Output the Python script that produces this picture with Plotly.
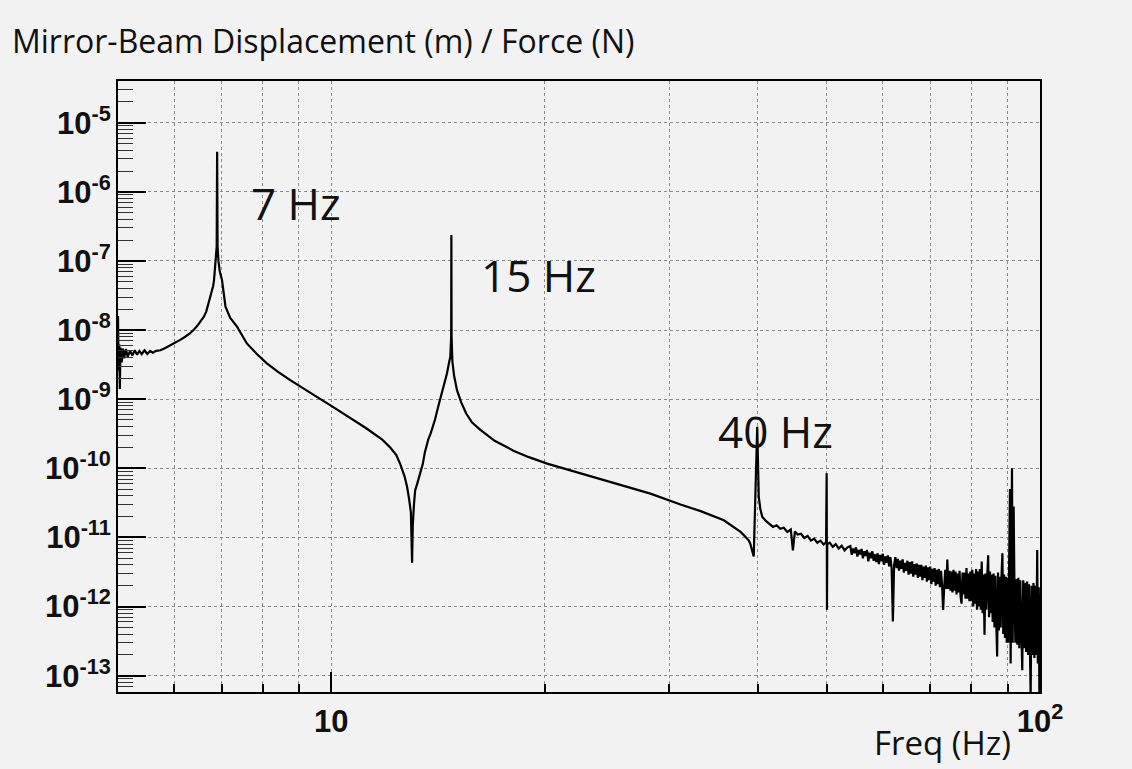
import math
import plotly.graph_objects as go

# Measured transfer function: mirror-beam displacement per unit force
freq_hz = [
    5.00, 5.01, 5.02, 5.03, 5.04, 5.06, 5.08, 5.10, 5.13, 5.16, 5.20, 5.24, 5.28,
    5.32, 5.36, 5.40, 5.45, 5.50, 5.55, 5.60, 5.66, 5.74, 5.83, 5.93, 6.02, 6.12,
    6.22, 6.32, 6.40, 6.47, 6.54, 6.61, 6.66, 6.70, 6.74, 6.78, 6.81, 6.83, 6.86,
    6.88, 6.89, 6.90, 6.91, 6.93, 6.96, 7.01, 7.09, 7.20, 7.36, 7.60, 7.85, 8.11,
    8.40, 8.75, 9.10, 9.54, 10.0, 10.64, 11.2, 11.8, 12.11, 12.35, 12.51, 12.68,
    12.79, 12.88, 12.95, 13.00, 13.03, 13.08, 13.13, 13.22, 13.34, 13.40, 13.46,
    13.55, 13.70, 13.81, 14.00, 14.15, 14.35, 14.56, 14.66, 14.72, 14.76, 14.77,
    14.78, 14.82, 14.90, 15.04, 15.25, 15.50, 15.80, 16.23, 17.0, 18.07, 19.0,
    20.16, 22.46, 25.0, 28.2, 31.1, 33.2, 35.8, 37.8, 38.3, 38.8, 39.0, 39.25,
    39.45, 39.9, 40.1, 40.3, 40.55, 41.0, 41.65,
    42.0, 42.5, 43.0, 43.5, 44.0, 44.5, 44.8, 45.1, 45.5, 46.0, 46.5, 47.0, 47.5,
    48.0, 48.5, 49.0, 49.5, 49.9, 50.0, 50.05, 50.1, 50.5, 51.0, 51.5, 52.0, 52.5,
    53.0, 53.5,
    54.0, 54.25, 54.5, 54.75, 55.0, 55.25, 55.5, 55.75,
    56.0, 56.25, 56.5, 56.75, 57.0, 57.25, 57.5, 57.75,
    58.0, 58.25, 58.5, 58.75, 59.0, 59.25, 59.5, 59.75,
    60.0, 60.25, 60.5, 60.75, 61.0, 61.25, 61.5, 61.75,
    62.0, 62.25, 62.5, 62.75, 63.0, 63.25, 63.5, 63.75,
    64.0, 64.25, 64.5, 64.75, 65.0, 65.25, 65.5, 65.75,
    66.0, 66.25, 66.5, 66.75, 67.0, 67.25, 67.5, 67.75,
    68.0, 68.25, 68.5, 68.75, 69.0, 69.25, 69.5, 69.75,
    70.0, 70.25, 70.5, 70.75, 71.0, 71.25, 71.5, 71.75,
    72.0, 72.25, 72.5, 72.75, 73.0, 73.25, 73.5, 73.75,
    74.0, 74.25, 74.5, 74.75, 75.0, 75.25, 75.5, 75.75,
    76.0, 76.25, 76.5, 76.75, 77.0, 77.25, 77.5, 77.75,
    78.0, 78.25, 78.5, 78.75, 79.0, 79.25, 79.5, 79.75,
    80.0, 80.25, 80.5, 80.75, 81.0, 81.25, 81.5, 81.75,
    82.0, 82.25, 82.5, 82.75, 83.0, 83.25, 83.5, 83.75,
    84.0, 84.25, 84.5, 84.75, 85.0, 85.25, 85.5, 85.75,
    86.0, 86.25, 86.5, 86.75, 87.0, 87.25, 87.5, 87.75,
    88.0, 88.25, 88.5, 88.75, 89.0, 89.25, 89.5, 89.75,
    90.0, 90.2, 90.5, 90.7, 90.9, 91.1, 91.3, 91.5, 91.8,
    92.0, 92.3, 92.6, 92.9, 93.2, 93.5, 93.8, 94.1, 94.4, 94.7, 95.0, 95.3, 95.6,
    95.9, 96.2, 96.5, 96.8, 97.0, 97.3, 97.6, 97.9, 98.2, 98.5, 98.8, 99.1, 99.3,
    99.6, 99.8, 100.0,
]

displacement_per_force = [
    1.6e-8, 2.6e-9, 6.2e-9, 1.4e-9, 5.6e-9, 3.4e-9, 5.4e-9, 3.9e-9, 5.3e-9, 4.1e-9,
    5.0e-9, 4.3e-9, 5.1e-9, 4.4e-9, 5.0e-9, 4.5e-9, 5.1e-9, 4.5e-9, 5.0e-9, 4.7e-9,
    5.0e-9, 5.1e-9, 5.5e-9, 6.0e-9, 6.5e-9, 7.2e-9, 8.0e-9, 9.0e-9, 1.02e-8,
    1.15e-8, 1.35e-8, 1.56e-8, 1.85e-8, 2.3e-8, 2.8e-8, 3.4e-8, 4.3e-8, 5.2e-8,
    8.2e-8, 1.2e-7, 1.6e-7, 3.8e-6, 1.6e-7, 1.0e-7, 7.0e-8, 5.3e-8, 2.17e-8,
    1.5e-8, 1.12e-8, 6.4e-9, 4.5e-9, 3.3e-9, 2.5e-9, 1.89e-9, 1.45e-9, 1.08e-9,
    8.0e-10, 5.4e-10, 3.8e-10, 2.6e-10, 2.0e-10, 1.55e-10, 1.15e-10, 7.8e-11,
    5.4e-11, 3.5e-11, 2.3e-11, 4.3e-12, 1.5e-11, 3.0e-11, 4.8e-11, 6.0e-11,
    8.4e-11, 9.5e-11, 1.15e-10, 1.7e-10, 2.6e-10, 3.2e-10, 5.0e-10, 7.8e-10,
    1.3e-9, 2.36e-9, 3.4e-9, 4.1e-9, 8.0e-9, 2.37e-7, 8.0e-9, 3.5e-9, 2.2e-9,
    1.36e-9, 9.0e-10, 6.2e-10, 4.6e-10, 3.6e-10, 2.5e-10, 1.8e-10, 1.45e-10,
    1.17e-10, 8.5e-11, 6.2e-11, 4.3e-11, 3.0e-11, 2.4e-11, 1.77e-11, 1.2e-11,
    1.05e-11, 9.1e-12, 8.2e-12, 6.6e-12, 5.3e-12, 4.0e-10, 3.9e-11, 2.6e-11,
    2.0e-11, 1.75e-11, 1.5e-11,
    1.42e-11, 1.5e-11, 1.33e-11, 1.38e-11, 1.2e-11, 1.3e-11, 6.5e-12, 1.22e-11,
    1.1e-11, 1.13e-11, 9.8e-12, 1.05e-11, 9.0e-12, 9.6e-12, 8.4e-12, 9.0e-12,
    7.9e-12, 8.5e-12, 8.5e-11, 9.0e-13, 8.0e-12, 8.4e-12, 7.3e-12, 8.0e-12,
    6.9e-12, 7.6e-12, 6.5e-12, 7.2e-12,
    7.5e-12, 5.6e-12, 6.9e-12, 5.9e-12, 7.2e-12, 5.3e-12, 6.6e-12, 5.7e-12,
    6.8e-12, 5.0e-12, 6.3e-12, 5.4e-12, 6.6e-12, 4.5e-12, 6.0e-12, 5.0e-12,
    6.3e-12, 4.6e-12, 5.7e-12, 4.4e-12, 5.9e-12, 4.1e-12, 5.6e-12, 4.5e-12,
    5.8e-12, 4.0e-12, 5.3e-12, 4.3e-12, 5.5e-12, 3.8e-12, 5.2e-12, 3.6e-12,
    6.1e-13, 4.0e-12, 5.2e-12, 3.6e-12, 4.9e-12, 3.3e-12, 4.6e-12, 3.5e-12,
    4.8e-12, 3.1e-12, 4.3e-12, 3.3e-12, 4.6e-12, 2.9e-12, 4.4e-12, 3.0e-12,
    4.5e-12, 2.7e-12, 4.1e-12, 2.9e-12, 4.2e-12, 2.6e-12, 4.0e-12, 2.7e-12,
    4.0e-12, 2.4e-12, 3.8e-12, 2.6e-12, 3.9e-12, 2.3e-12, 3.7e-12, 2.4e-12,
    3.8e-12, 2.1e-12, 3.5e-12, 2.3e-12, 3.6e-12, 2.0e-12, 3.4e-12, 2.1e-12,
    3.5e-12, 1.9e-12, 3.3e-12, 2.0e-12, 8.9e-13, 1.9e-12, 3.4e-12, 1.8e-12,
    4.8e-12, 1.8e-12, 3.3e-12, 1.7e-12, 3.2e-12, 1.6e-12, 3.4e-12, 1.7e-12,
    3.2e-12, 1.5e-12, 3.0e-12, 1.6e-12, 3.3e-12, 1.4e-12, 1.1e-12, 3.1e-12,
    1.5e-12, 3.1e-12, 1.3e-12, 3.6e-12, 1.3e-12, 3.0e-12, 1.2e-12, 3.2e-12,
    1.2e-12, 3.4e-12, 1.0e-12, 3.0e-12, 1.1e-12, 3.5e-12, 9.0e-13, 3.2e-12,
    1.0e-12, 3.5e-12, 9.0e-13, 4.5e-12, 8.0e-13, 2.9e-12, 3.9e-13, 3.0e-12,
    9.0e-13, 2.8e-12, 5.5e-12, 7.0e-13, 3.2e-12, 8.0e-13, 2.9e-12, 6.0e-13,
    3.0e-12, 5.0e-13, 2.8e-12, 6.0e-13, 1.9e-13, 3.1e-12, 4.5e-13, 2.7e-12,
    5.0e-13, 2.8e-12, 5.9e-12, 4.0e-13, 2.9e-12, 3.5e-13, 2.7e-12, 3.0e-13,
    2.6e-12, 3.0e-13, 2.8e-12, 5.0e-11, 1.5e-13, 2.6e-12, 1.0e-10, 3.0e-13,
    2.8e-11, 2.6e-12, 3.0e-13, 2.5e-12, 2.8e-13, 2.6e-12, 2.5e-13, 2.4e-12,
    3.0e-13, 1.2e-13, 2.4e-12, 2.5e-13, 2.2e-12, 2.2e-13, 2.3e-12, 2.0e-13,
    2.1e-12, 2.5e-13, 5.0e-14, 2.0e-12, 2.0e-13, 2.2e-12, 1.8e-13, 2.0e-12,
    2.0e-13, 6.6e-12, 1.5e-13, 1.9e-12, 5.0e-14, 1.5e-12,
]

# Axis ticks
y_major = [10.0 ** e for e in range(-13, -4)]
y_major_text = ["10<sup>%d</sup>" % e for e in range(-13, -4)]
y_minor = [k * 10.0 ** e for e in range(-14, -4) for k in range(2, 10)]
x_major = [10, 100]
x_major_text = ["10", "10<sup>2</sup>"]
x_minor = [6, 7, 8, 9, 20, 30, 40, 50, 60, 70, 80, 90]

# Resonance labels: (text, frequency, level)
peak_labels = [
    ("7 Hz", 8.92, 6.9e-7),
    ("15 Hz", 19.6, 6.3e-8),
    ("40 Hz", 42.4, 3.5e-10),
]

BG = "#f2f2f2"
GRID = "#8c8c8c"

fig = go.Figure()
fig.add_trace(go.Scatter(
    x=freq_hz, y=displacement_per_force, mode="lines",
    line=dict(color="black", width=2.2), showlegend=False,
))

for text, fx, fy in peak_labels:
    fig.add_annotation(
        x=math.log10(fx), y=math.log10(fy), xref="x", yref="y",
        text=text, showarrow=False, xanchor="center", yanchor="middle",
        font=dict(family="Open Sans", size=44, color="#111111"),
    )

fig.add_annotation(
    x=0.971, y=-0.082, xref="paper", yref="paper", text="Freq (Hz)",
    showarrow=False, xanchor="right", yanchor="middle",
    font=dict(family="Open Sans", size=33, color="#111111"),
)

fig.update_layout(
    width=1132, height=769,
    margin=dict(l=118, r=92, t=81, b=77),
    paper_bgcolor=BG, plot_bgcolor=BG,
    title=dict(
        text="Mirror-Beam Displacement (m) / Force (N)",
        x=0.0106, xanchor="left", y=0.9454, yanchor="middle",
        font=dict(family="Open Sans", size=32, color="#111111"),
    ),
)

tick_font = dict(family="Liberation Sans", size=31, color="#111111", weight="bold")

fig.update_xaxes(
    type="log", range=[math.log10(5), 2],
    tickmode="array", tickvals=x_major, ticktext=x_major_text,
    ticks="inside", ticklen=20, tickwidth=1.5, tickcolor="black",
    tickfont=tick_font, ticklabelstandoff=1,
    showgrid=True, gridcolor=GRID, griddash="dot", gridwidth=1,
    showline=True, linecolor="black", linewidth=2, mirror=True,
    zeroline=False,
    minor=dict(tickmode="array", tickvals=x_minor, ticks="inside", ticklen=8,
               tickwidth=1.5, tickcolor="black", showgrid=True,
               gridcolor=GRID, griddash="dot", gridwidth=1),
)

fig.update_yaxes(
    type="log", range=[-13.236, -4.397],
    tickmode="array", tickvals=y_major, ticktext=y_major_text,
    ticks="inside", ticklen=28, tickwidth=1.5, tickcolor="black",
    tickfont=tick_font, ticklabelstandoff=-1,
    showgrid=True, gridcolor=GRID, griddash="dot", gridwidth=1,
    showline=True, linecolor="black", linewidth=2, mirror=True,
    zeroline=False,
    minor=dict(tickmode="array", tickvals=y_minor, ticks="inside", ticklen=15,
               tickwidth=1.2, tickcolor="#333333", showgrid=False),
)

fig.write_html("out.html")
